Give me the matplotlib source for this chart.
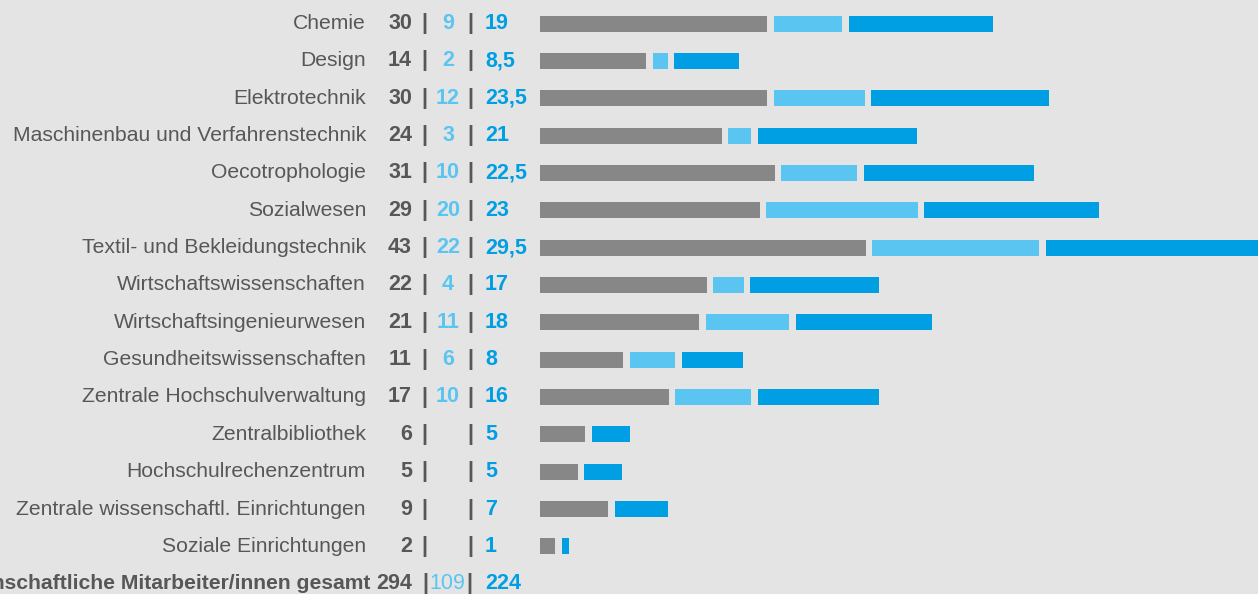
import matplotlib
matplotlib.use("Agg")
import matplotlib.pyplot as plt

# Data
labels = ["Chemie", "Design", "Elektrotechnik", "Maschinenbau und Verfahrenstechnik",
          "Oecotrophologie", "Sozialwesen", "Textil- und Bekleidungstechnik",
          "Wirtschaftswissenschaften", "Wirtschaftsingenieurwesen",
          "Gesundheitswissenschaften", "Zentrale Hochschulverwaltung",
          "Zentralbibliothek", "Hochschulrechenzentrum",
          "Zentrale wissenschaftl. Einrichtungen", "Soziale Einrichtungen"]
vals_a = [30, 14, 30, 24, 31, 29, 43, 22, 21, 11, 17, 6, 5, 9, 2]
vals_b = [9, 2, 12, 3, 10, 20, 22, 4, 11, 6, 10, None, None, None, None]
vals_c = [19, 8.5, 23.5, 21, 22.5, 23, 29.5, 17, 18, 8, 16, 5, 5, 7, 1]
total_label = "Wissenschaftliche Mitarbeiter/innen gesamt"
totals = [294, 109, 224]

GREY = "#878787"
LIGHT = "#5bc5f2"
BLUE = "#009fe3"
TEXT = "#575756"
BG = "#e3e4e3"

plt.rcParams["font.family"] = ["Liberation Sans", "DejaVu Sans"]

W, H = 1258, 594
fig = plt.figure(figsize=(W / 100, H / 100), dpi=100, facecolor=BG)
x0 = 540
ppu = 7.58  # pixels per unit
ax = fig.add_axes([x0 / W, 0, 1 - x0 / W, 1])
ax.set_facecolor(BG)
ax.set_xlim(0, (W - x0) / ppu)
row_h = 37.35
y_first = 23.5
ax.set_ylim((H - y_first) / row_h, -y_first / row_h)
ax.axis("off")

gap = 6.5 / ppu
bar_h = 16 / row_h


def fmt(v):
    if v is None:
        return ""
    s = f"{v:g}"
    return s.replace(".", ",")


def ax_x(px):
    return (px - x0) / (W - x0)


tr = ax.get_yaxis_transform()
fs_lab = 15.2
fs_num = 15.5


def put(px, y, s, ha, color, size, bold=False):
    ax.text(ax_x(px), y, s, transform=tr, ha=ha, va="center", fontsize=size,
            color=color, fontweight="bold" if bold else "normal", clip_on=False)


for i, lab in enumerate(labels):
    left = 0
    for v, c in [(vals_a[i], GREY), (vals_b[i], LIGHT), (vals_c[i], BLUE)]:
        if v is None:
            continue
        ax.barh(i, v, left=left, height=bar_h, color=c, clip_on=True)
        left += v + gap
    put(366, i, lab, "right", TEXT, fs_lab)
    put(412, i, fmt(vals_a[i]), "right", TEXT, fs_num, True)
    put(424, i, "|", "center", TEXT, fs_num, True)
    put(448, i, fmt(vals_b[i]), "center", LIGHT, fs_num, True)
    put(470, i, "|", "center", TEXT, fs_num, True)
    put(485, i, fmt(vals_c[i]), "left", BLUE, fs_num, True)

# total row
j = len(labels)
put(370, j, total_label, "right", TEXT, fs_lab, True)
put(412, j, str(totals[0]), "right", TEXT, fs_num, True)
put(425, j, "|", "center", TEXT, fs_num, True)
put(447, j, str(totals[1]), "center", LIGHT, fs_num)
put(469, j, "|", "center", TEXT, fs_num, True)
put(485, j, str(totals[2]), "left", BLUE, fs_num, True)

fig.savefig("out.png", dpi=100, facecolor=BG)
